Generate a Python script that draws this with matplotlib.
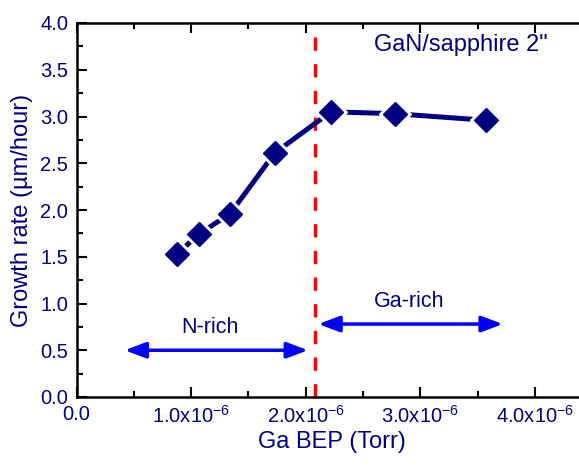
import matplotlib.pyplot as plt
from matplotlib.ticker import MultipleLocator, FuncFormatter

plt.rcParams['font.family'] = ['Liberation Sans', 'DejaVu Sans']
plt.rcParams['mathtext.default'] = 'regular'

# Ga beam equivalent pressure (Torr) and growth rate (um/hour)
ga_bep = [0.88e-6, 1.065e-6, 1.34e-6, 1.73e-6, 2.22e-6, 2.78e-6, 3.57e-6]
growth_rate = [1.53, 1.74, 1.96, 2.61, 3.05, 3.03, 2.96]

boundary = 2.08e-6
n_rich_span = [0.42e-6, 2.02e-6]
ga_rich_span = [2.11e-6, 3.72e-6]

navy = '#000080'

fig = plt.figure(figsize=(5.79, 4.66), dpi=100)
ax = fig.add_axes([76.5 / 579, 69 / 466, 510 / 579, 374 / 466])

ax.plot(ga_bep, growth_rate, '-', color=navy, lw=3.6, zorder=3)
ax.plot(ga_bep, growth_rate, 'D', color='white', ms=16, zorder=4)
ax.plot(ga_bep, growth_rate, 'D', color=navy, ms=12, zorder=5)

ax.axvline(boundary, color='#ff0000', lw=2.4, linestyle=(0, (4, 4)), zorder=2)

arrow = dict(arrowstyle='<|-|>,head_length=0.8,head_width=0.3', color='#0000ff',
             lw=2.5, mutation_scale=16, shrinkA=0, shrinkB=0)
ax.annotate('', xy=(n_rich_span[0], 0.5), xytext=(n_rich_span[1], 0.5), arrowprops=arrow)
ax.annotate('', xy=(ga_rich_span[0], 0.78), xytext=(ga_rich_span[1], 0.78), arrowprops=arrow)
ax.text(1.16e-6, 0.74, 'N-rich', color=navy, fontsize=15.5, ha='center', va='center')
ax.text(2.9e-6, 1.02, 'Ga-rich', color=navy, fontsize=15.5, ha='center', va='center')
ax.text(3.35e-6, 3.76, 'GaN/sapphire 2"', color=navy, fontsize=17, ha='center', va='center')

ax.set_xlim(0, 4.45e-6)
ax.set_ylim(0, 4.0)
ax.xaxis.set_major_locator(MultipleLocator(1e-6))
ax.xaxis.set_minor_locator(MultipleLocator(0.5e-6))
ax.yaxis.set_major_locator(MultipleLocator(0.5))
ax.yaxis.set_minor_locator(MultipleLocator(0.25))


def fmt_x(v, pos):
    if abs(v) < 1e-12:
        return '0.0'
    return '%.1fx10$^{-6}$' % (v * 1e6)


ax.xaxis.set_major_formatter(FuncFormatter(fmt_x))
ax.yaxis.set_major_formatter(FuncFormatter(lambda v, p: '%.1f' % v))

ax.tick_params(which='both', direction='in', top=True, right=False,
               labelcolor=navy, labelsize=14.5, width=1.5)
ax.tick_params(which='major', length=7, pad=6)
ax.tick_params(which='minor', length=4)
for s in ax.spines.values():
    s.set_linewidth(1.8)

ax.set_xlabel('Ga BEP (Torr)', color=navy, fontsize=17, labelpad=3)
ax.set_ylabel('Growth rate (\u00b5m/hour)', color=navy, fontsize=17, labelpad=5)

fig.savefig('out.png', dpi=100)
